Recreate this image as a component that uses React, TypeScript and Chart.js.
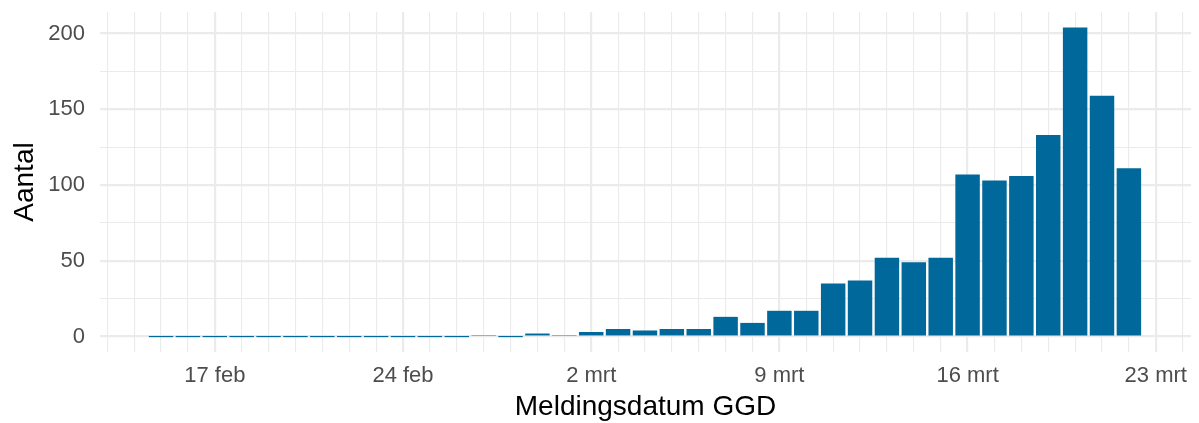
import React, { useEffect, useRef } from "react";
import { Chart, registerables } from "chart.js";

Chart.register(...registerables);

// Categories: one bar per day, 15 feb .. 22 mrt (2020)
const days = [
  "15 feb", "16 feb", "17 feb", "18 feb", "19 feb", "20 feb", "21 feb", "22 feb",
  "23 feb", "24 feb", "25 feb", "26 feb", "27 feb", "28 feb", "29 feb",
  "1 mrt", "2 mrt", "3 mrt", "4 mrt", "5 mrt", "6 mrt", "7 mrt", "8 mrt",
  "9 mrt", "10 mrt", "11 mrt", "12 mrt", "13 mrt", "14 mrt", "15 mrt",
  "16 mrt", "17 mrt", "18 mrt", "19 mrt", "20 mrt", "21 mrt", "22 mrt",
];

// Series: Aantal per meldingsdatum
const counts = [
  0, 0, 0, 0, 0, 0, 0, 0, 0, 0, 0, 0, 1, 0, 2,
  1, 3, 5, 4, 5, 5, 13, 9, 17, 17, 35, 37, 52, 49, 52,
  107, 103, 106, 133, 204, 159, 111,
];

// X tick labels (weekly), as day index from 15 feb
const xTickDays = [2, 9, 16, 23, 30, 37];
const xTickLabels = ["17 feb", "24 feb", "2 mrt", "9 mrt", "16 mrt", "23 mrt"];

// Y ticks
const yTicks = [0, 25, 50, 75, 100, 125, 150, 175, 200];
const yLabelTicks = [0, 50, 100, 150, 200];

const FONT = "'Liberation Sans', Arial, Helvetica, sans-serif";
const BAR = "#01689B";
const GRID = "#EBEBEB";

export default function App() {
  const ref = useRef<HTMLCanvasElement | null>(null);

  useEffect(() => {
    const canvas = ref.current;
    if (!canvas) return;
    const n = days.length;
    const xMin = -2.27;
    const xMax = n - 1 + 2.31;
    const data = counts.map((v, i) => ({ x: i, y: v }));

    const chart = new Chart(canvas, {
      type: "bar",
      data: {
        labels: days,
        datasets: [
          {
            label: "Aantal",
            data: data as any,
            backgroundColor: BAR,
            borderWidth: 0,
            categoryPercentage: 1,
            barPercentage: 0.91,
            minBarLength: 1.2,
          },
        ],
      },
      options: {
        animation: false,
        responsive: false,
        parsing: { xAxisKey: "x", yAxisKey: "y" } as any,
        layout: { padding: { top: 12, right: 8, left: 0, bottom: 0 } },
        plugins: {
          legend: { display: false },
          tooltip: { enabled: false },
        },
        scales: {
          x: {
            type: "linear",
            min: xMin,
            max: xMax,
            offset: false,
            grid: {
              offset: false,
              drawTicks: false,
              color: GRID,
              lineWidth: (ctx: any) =>
                ctx.tick && xTickDays.includes(ctx.tick.value) ? 2.2 : 1.1,
            },
            border: { display: false },
            afterBuildTicks: (scale: any) => {
              const t = [];
              for (let d = Math.ceil(xMin); d <= Math.floor(xMax); d++) t.push({ value: d });
              scale.ticks = t;
            },
            afterFit: (scale: any) => {
              scale.height = 71;
              scale.paddingLeft = 0;
              scale.paddingRight = 0;
            },
            ticks: {
              autoSkip: false,
              maxRotation: 0,
              minRotation: 0,
              padding: 11,
              color: "#4D4D4D",
              font: { family: FONT, size: 22 },
              callback: (value: any) => {
                const idx = xTickDays.indexOf(Number(value));
                return idx >= 0 ? xTickLabels[idx] : "";
              },
            },
            title: {
              display: true,
              text: "Meldingsdatum GGD",
              color: "#000000",
              font: { family: FONT, size: 28, lineHeight: 1.1 },
              padding: { top: 0, bottom: 0 },
            },
          },
          y: {
            type: "linear",
            min: -10.2,
            max: 214.2,
            grid: {
              drawTicks: false,
              color: GRID,
              lineWidth: (ctx: any) =>
                ctx.tick && yLabelTicks.includes(ctx.tick.value) ? 2.2 : 1.1,
            },
            border: { display: false },
            afterBuildTicks: (scale: any) => {
              scale.ticks = yTicks.map((v) => ({ value: v }));
            },
            afterFit: (scale: any) => {
              scale.width = 100;
              scale.paddingTop = 0;
              scale.paddingBottom = 0;
            },
            ticks: {
              padding: 15,
              color: "#4D4D4D",
              font: { family: FONT, size: 22 },
              callback: (value: any) =>
                yLabelTicks.includes(Number(value)) ? String(value) : "",
            },
            title: {
              display: true,
              text: "Aantal",
              color: "#000000",
              font: { family: FONT, size: 28, lineHeight: 1.2 },
              padding: { top: 8, bottom: 0 },
            },
          },
        },
      },
    });

    return () => {
      chart.destroy();
    };
  }, []);

  return (
    <div style={{ position: "absolute", left: 0, top: 0, width: 1199, height: 423, background: "#ffffff" }}>
      <canvas ref={ref} width={1199} height={423} style={{ display: "block" }} />
    </div>
  );
}
